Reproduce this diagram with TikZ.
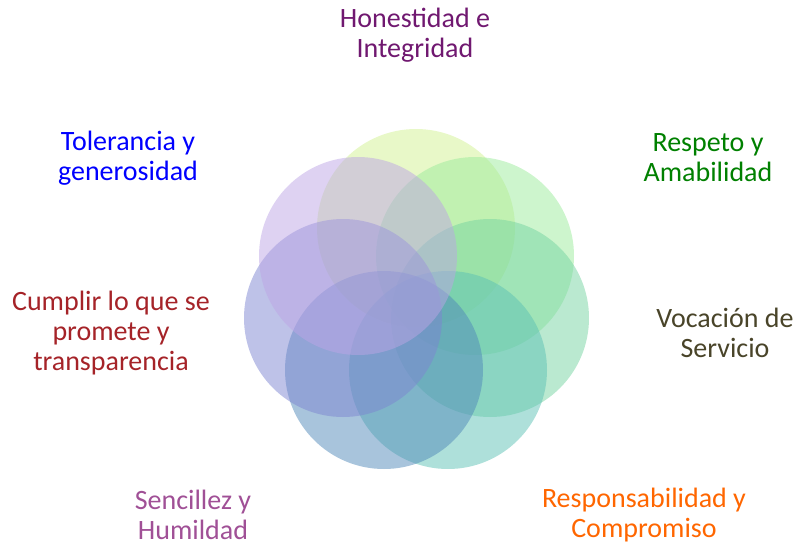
\documentclass[tikz,border=0pt]{standalone}
\usepackage{fontspec}
\usepackage{xcolor}
\setmainfont{Carlito}

\definecolor{ringA}{RGB}{209,241,145}
\definecolor{ringB}{RGB}{155,235,155}
\definecolor{ringC}{RGB}{117,211,161}
\definecolor{ringD}{RGB}{93,193,181}
\definecolor{ringE}{RGB}{81,137,185}
\definecolor{ringF}{RGB}{125,133,209}
\definecolor{ringG}{RGB}{189,165,229}

\definecolor{txtHon}{RGB}{112,24,112}
\definecolor{txtTol}{RGB}{0,0,255}
\definecolor{txtRes}{RGB}{0,128,0}
\definecolor{txtVoc}{RGB}{73,68,41}
\definecolor{txtCom}{RGB}{255,102,0}
\definecolor{txtSen}{RGB}{160,80,150}
\definecolor{txtCum}{RGB}{165,35,40}

\tikzset{
  ring/.style={fill=#1, fill opacity=0.5},
  value/.style={align=center, font=\fontsize{28}{30}\selectfont, text=#1, inner sep=0pt}
}

\begin{document}
\begin{tikzpicture}[x=1pt, y=-1pt]
    % Page frame
    \useasboundingbox (0,0) rectangle (812,546);

    % Seven overlapping circles
    \fill[ring=ringA] (416,228) circle (99pt);
    \fill[ring=ringB] (475,256) circle (99pt);
    \fill[ring=ringC] (490,318) circle (99pt);
    \fill[ring=ringD] (448,370) circle (99pt);
    \fill[ring=ringE] (384,370) circle (99pt);
    \fill[ring=ringF] (343,318) circle (99pt);
    \fill[ring=ringG] (358,256) circle (99pt);

    % Labels round the circles
    \node[value=txtHon] (hon) at (415,35) {Honestidad e\\Integridad};
    \node[value=txtRes] (res) at (708,158) {Respeto y\\Amabilidad};
    \node[value=txtVoc] (voc) at (725,333) {Vocación de\\Servicio};
    \node[value=txtCom] (com) at (644,515) {Responsabilidad y\\Compromiso};
    \node[value=txtSen] (sen) at (193,515) {Sencillez y\\Humildad};
    \node[value=txtCum] (cum) at (111,333) {Cumplir lo que se\\promete y\\transparencia};
    \node[value=txtTol] (tol) at (128,158) {Tolerancia y\\generosidad};
\end{tikzpicture}
\end{document}
